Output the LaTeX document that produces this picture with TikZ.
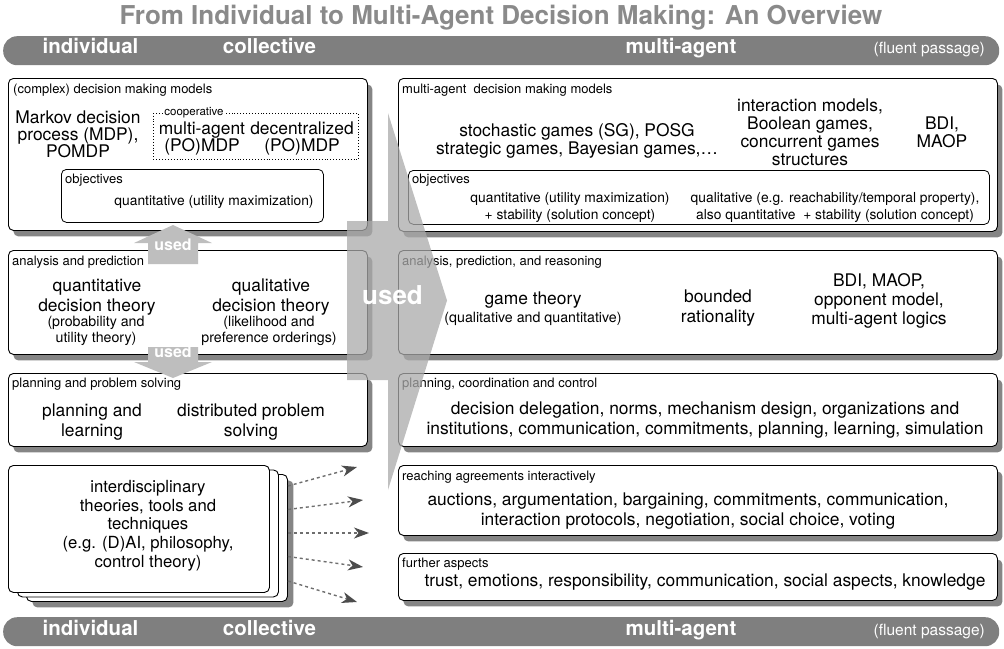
\documentclass[tikz,border=0pt]{standalone}
\usepackage{fontspec}
\setmainfont{TeX Gyre Heros}
\usetikzlibrary{arrows.meta,shadows,calc}
\definecolor{bargray}{HTML}{7F7F7F}
\definecolor{titlegray}{HTML}{8A8A8A}
\definecolor{usedgray}{HTML}{BEBEBE}
\definecolor{bigarrowgray}{HTML}{AAAAAA}
\definecolor{shadegray}{HTML}{858585}
\definecolor{dashgray}{HTML}{6E6E6E}
\newcommand{\fsz}[2]{\fontsize{#1pt}{#2pt}\selectfont}
\begin{document}
\begin{tikzpicture}[x=1pt,y=-1pt,
  panel/.style={draw=black,line width=0.9pt,fill=white,rounded corners=5pt,
    anchor=north west,inner sep=0pt,
    drop shadow={shadow xshift=5pt,shadow yshift=-6pt,fill=shadegray,opacity=1}},
  objbox/.style={draw=black,line width=0.8pt,fill=white,rounded corners=5pt,anchor=north west,inner sep=0pt},
  card/.style={draw=black,line width=0.9pt,fill=white,rounded corners=5pt,anchor=north west,inner sep=0pt,
    minimum width=261pt,minimum height=127pt},
  lab/.style={font=\fsz{13}{14},anchor=mid west,inner sep=0pt},
  bigtxt/.style={font=\fsz{17.4}{17},align=center,inner sep=0pt},
  medtxt/.style={font=\fsz{13.8}{16.5},align=center,inner sep=0pt},
  smalltxt/.style={font=\fsz{14.2}{16},align=center,inner sep=0pt},
  bar/.style={fill=bargray,rounded corners=14pt,anchor=north west,inner sep=0pt,minimum width=996pt,minimum height=29pt},
  bartext/.style={font=\fsz{20.5}{22}\bfseries,text=white,inner sep=0pt,anchor=mid},
  barnote/.style={font=\fsz{15.5}{17},text=white,inner sep=0pt,anchor=mid east},
  usedarrow/.style={fill=usedgray},
  usedtext/.style={font=\fsz{16}{16}\bfseries,text=white,inner sep=0pt,anchor=mid},
  fan/.style={dashgray,line width=1.4pt,dash pattern=on 3pt off 3pt,
     -{Stealth[length=15pt,width=11pt,inset=4.5pt,color=black!70]}},
]
\useasboundingbox (0,0) rectangle (1004,648);

% title
\node[font=\fsz{26}{28}\bfseries,text=titlegray,inner sep=0pt] (title) at (501,18)
  {From Individual to Multi-Agent Decision Making: An Overview};

% bars
\node[bar] (topbar) at (3,36) {};
\node[bartext] (tind) at (90.5,51) {individual};
\node[bartext] (tcol) at (269.5,51) {collective};
\node[bartext] (tmul) at (681,51) {multi-agent};
\node[barnote] (tflu) at (985,51) {(fluent passage)};

\node[bar] (botbar) at (3,617) {};
\node[bartext] (bind) at (90.5,632.5) {individual};
\node[bartext] (bcol) at (269.5,632.5) {collective};
\node[bartext] (bmul) at (681,632.5) {multi-agent};
\node[barnote] (bflu) at (985,632.5) {(fluent passage)};

% left panels
\node[panel,minimum width=359pt,minimum height=152pt] (L1) at (8,78) {};
\node[panel,minimum width=359pt,minimum height=104pt] (L2) at (8,250) {};
\node[panel,minimum width=359pt,minimum height=73pt] (L3) at (8,373) {};
% right panels
\node[panel,minimum width=599pt,minimum height=153pt] (R1) at (398,78) {};
\node[panel,minimum width=599pt,minimum height=104pt] (R2) at (398,250) {};
\node[panel,minimum width=599pt,minimum height=73pt] (R3) at (398,373) {};
\node[panel,minimum width=599pt,minimum height=70pt] (R4) at (398,465) {};
\node[panel,minimum width=599pt,minimum height=47pt] (R5) at (398,553) {};

% L1 content
\node[lab] (L1lab) at (13,91) {(complex) decision making models};
\node[bigtxt] (mdp) at (78,134) {Markov decision\\process (MDP),\\POMDP};
\node[draw=black,line width=0.9pt,dotted,anchor=north west,inner sep=0pt,
      minimum width=205pt,minimum height=46pt] (coop) at (153,113) {};
\node[font=\fsz{11.5}{13},fill=white,inner sep=1.5pt,anchor=mid] (cooplab) at (194,113) {cooperative};
\node[bigtxt] (mamdp) at (202,138.5) {multi-agent\\(PO)MDP};
\node[bigtxt] (decmdp) at (302,138.5) {decentralized\\(PO)MDP};
\node[objbox,minimum width=262pt,minimum height=53pt] (Lobj) at (61,169) {};
\node[lab] (Lobjlab) at (65,180.5) {objectives};
\node[medtxt,anchor=mid] (Lobjq) at (214,203) {quantitative (utility maximization)};

% R1 content
\node[lab] (R1lab) at (402,91) {multi-agent~ decision making models};
\node[font=\fsz{17.4}{18},align=center,inner sep=0pt] (sg) at (577,141)
  {stochastic games (SG), POSG\\strategic games, Bayesian games,\dots};
\node[font=\fsz{17.4}{18},align=center,inner sep=0pt] (imod) at (810,132.5)
  {interaction models,\\Boolean games,\\concurrent games\\structures};
\node[font=\fsz{17.4}{18},align=center,inner sep=0pt] (bdi1) at (942,132.5) {BDI,\\MAOP};
\node[objbox,minimum width=581pt,minimum height=54pt] (Robj) at (408,170) {};
\node[lab] (Robjlab) at (412,180.5) {objectives};
\node[medtxt] (Robjq) at (570,207.5)
  {quantitative (utility maximization)\\+ stability (solution concept)};
\node[medtxt] (Robjl) at (835,207.5)
  {qualitative (e.g. reachability/temporal property),\\also quantitative~ + stability (solution concept)};

% L2 content
\node[lab] (L2lab) at (12,263) {analysis and prediction};
\node[font=\fsz{17.4}{20},align=center,inner sep=0pt] (qdt) at (97,297) {quantitative\\decision theory};
\node[smalltxt] (qdtb) at (96,331) {(probability and\\utility theory)};
\node[font=\fsz{17.4}{20},align=center,inner sep=0pt] (qldt) at (271,297) {qualitative\\decision theory};
\node[smalltxt] (qldtb) at (269,331) {(likelihood and\\preference orderings)};

% R2 content
\node[lab] (R2lab) at (402,263) {analysis, prediction, and reasoning};
\node[font=\fsz{17.4}{17},inner sep=0pt,anchor=mid] (gt) at (533,302) {game theory};
\node[font=\fsz{14.2}{16},inner sep=0pt,anchor=mid] (gtq) at (533,319.5) {(qualitative and quantitative)};
\node[font=\fsz{17.4}{20},align=center,inner sep=0pt] (bnd) at (718,308) {bounded\\rationality};
\node[font=\fsz{17.4}{19},align=center,inner sep=0pt] (bdi2) at (879,301) {BDI, MAOP,\\opponent model,\\multi-agent logics};

% L3 content
\node[lab] (L3lab) at (12,385) {planning and problem solving};
\node[font=\fsz{17.4}{20},align=center,inner sep=0pt] (pl) at (92,422) {planning and\\learning};
\node[font=\fsz{17.4}{20},align=center,inner sep=0pt] (dps) at (251,422) {distributed problem\\solving};

% R3-R5 content
\node[lab] (R3lab) at (402,385) {planning, coordination and control};
\node[font=\fsz{17.4}{20.5},align=center,inner sep=0pt] (R3t) at (705,420)
  {decision delegation, norms, mechanism design, organizations and\\institutions, communication, commitments, planning, learning, simulation};
\node[lab] (R4lab) at (402,478) {reaching agreements interactively};
\node[font=\fsz{17.4}{19.5},align=center,inner sep=0pt] (R4t) at (688,511)
  {auctions, argumentation, bargaining, commitments, communication,\\interaction protocols, negotiation, social choice, voting};
\node[lab] (R5lab) at (402,565) {further aspects};
\node[font=\fsz{17.4}{17},inner sep=0pt,anchor=mid] (R5t) at (705,583.5)
  {trust, emotions, responsibility, communication, social aspects, knowledge};

% big "used" arrow (semi transparent)
\fill[bigarrowgray,fill opacity=0.75] (347,221) -- (388,221) -- (388,113) -- (447,300.5)
  -- (388,490) -- (388,380) -- (347,380) -- cycle;
\node[font=\fsz{26}{26}\bfseries,text=white,inner sep=0pt,anchor=mid] (bigused) at (392.5,302) {used};

% small used arrows
\fill[usedarrow] (148,264) -- (148,243) -- (134,243) -- (173,225) -- (212,243) -- (198,243) -- (198,264) -- cycle;
\node[usedtext] (usedup) at (173,247.5) {used};
\fill[usedarrow] (148,347) -- (198,347) -- (198,362) -- (212,362) -- (173,378) -- (134,362) -- (148,362) -- cycle;
\node[usedtext] (useddown) at (173,355) {used};

% stacked cards
\node[card,drop shadow={shadow xshift=6pt,shadow yshift=-6pt,fill=shadegray,opacity=1}] (card3) at (26,474) {};
\node[card] (card2) at (17,469.5) {};
\node[card] (card1) at (8,465) {};
\node[font=\fsz{16.7}{18.75},align=center,inner sep=0pt] (cardtxt) at (148,525.5)
  {interdisciplinary\\theories, tools and\\techniques\\(e.g. (D)AI, philosophy,\\control theory)};

% dashed fan arrows
\coordinate (s1) at ($(card3.north east)+(0,12)$);
\coordinate (s2) at ($(card3.north east)+(0,35.5)$);
\coordinate (s3) at ($(card3.north east)+(0,59)$);
\coordinate (s4) at ($(card3.north east)+(0,82.5)$);
\coordinate (s5) at ($(card3.north east)+(0,107)$);
\coordinate (t1) at (357,467);
\coordinate (t2) at (363,500);
\coordinate (t3) at (369,533);
\coordinate (t4) at (363,567);
\coordinate (t5) at (357,602);
\draw[fan] (s1) -- (t1);
\draw[fan] (s2) -- (t2);
\draw[fan] (s3) -- (t3);
\draw[fan] (s4) -- (t4);
\draw[fan] (s5) -- (t5);
\end{tikzpicture}
\end{document}
